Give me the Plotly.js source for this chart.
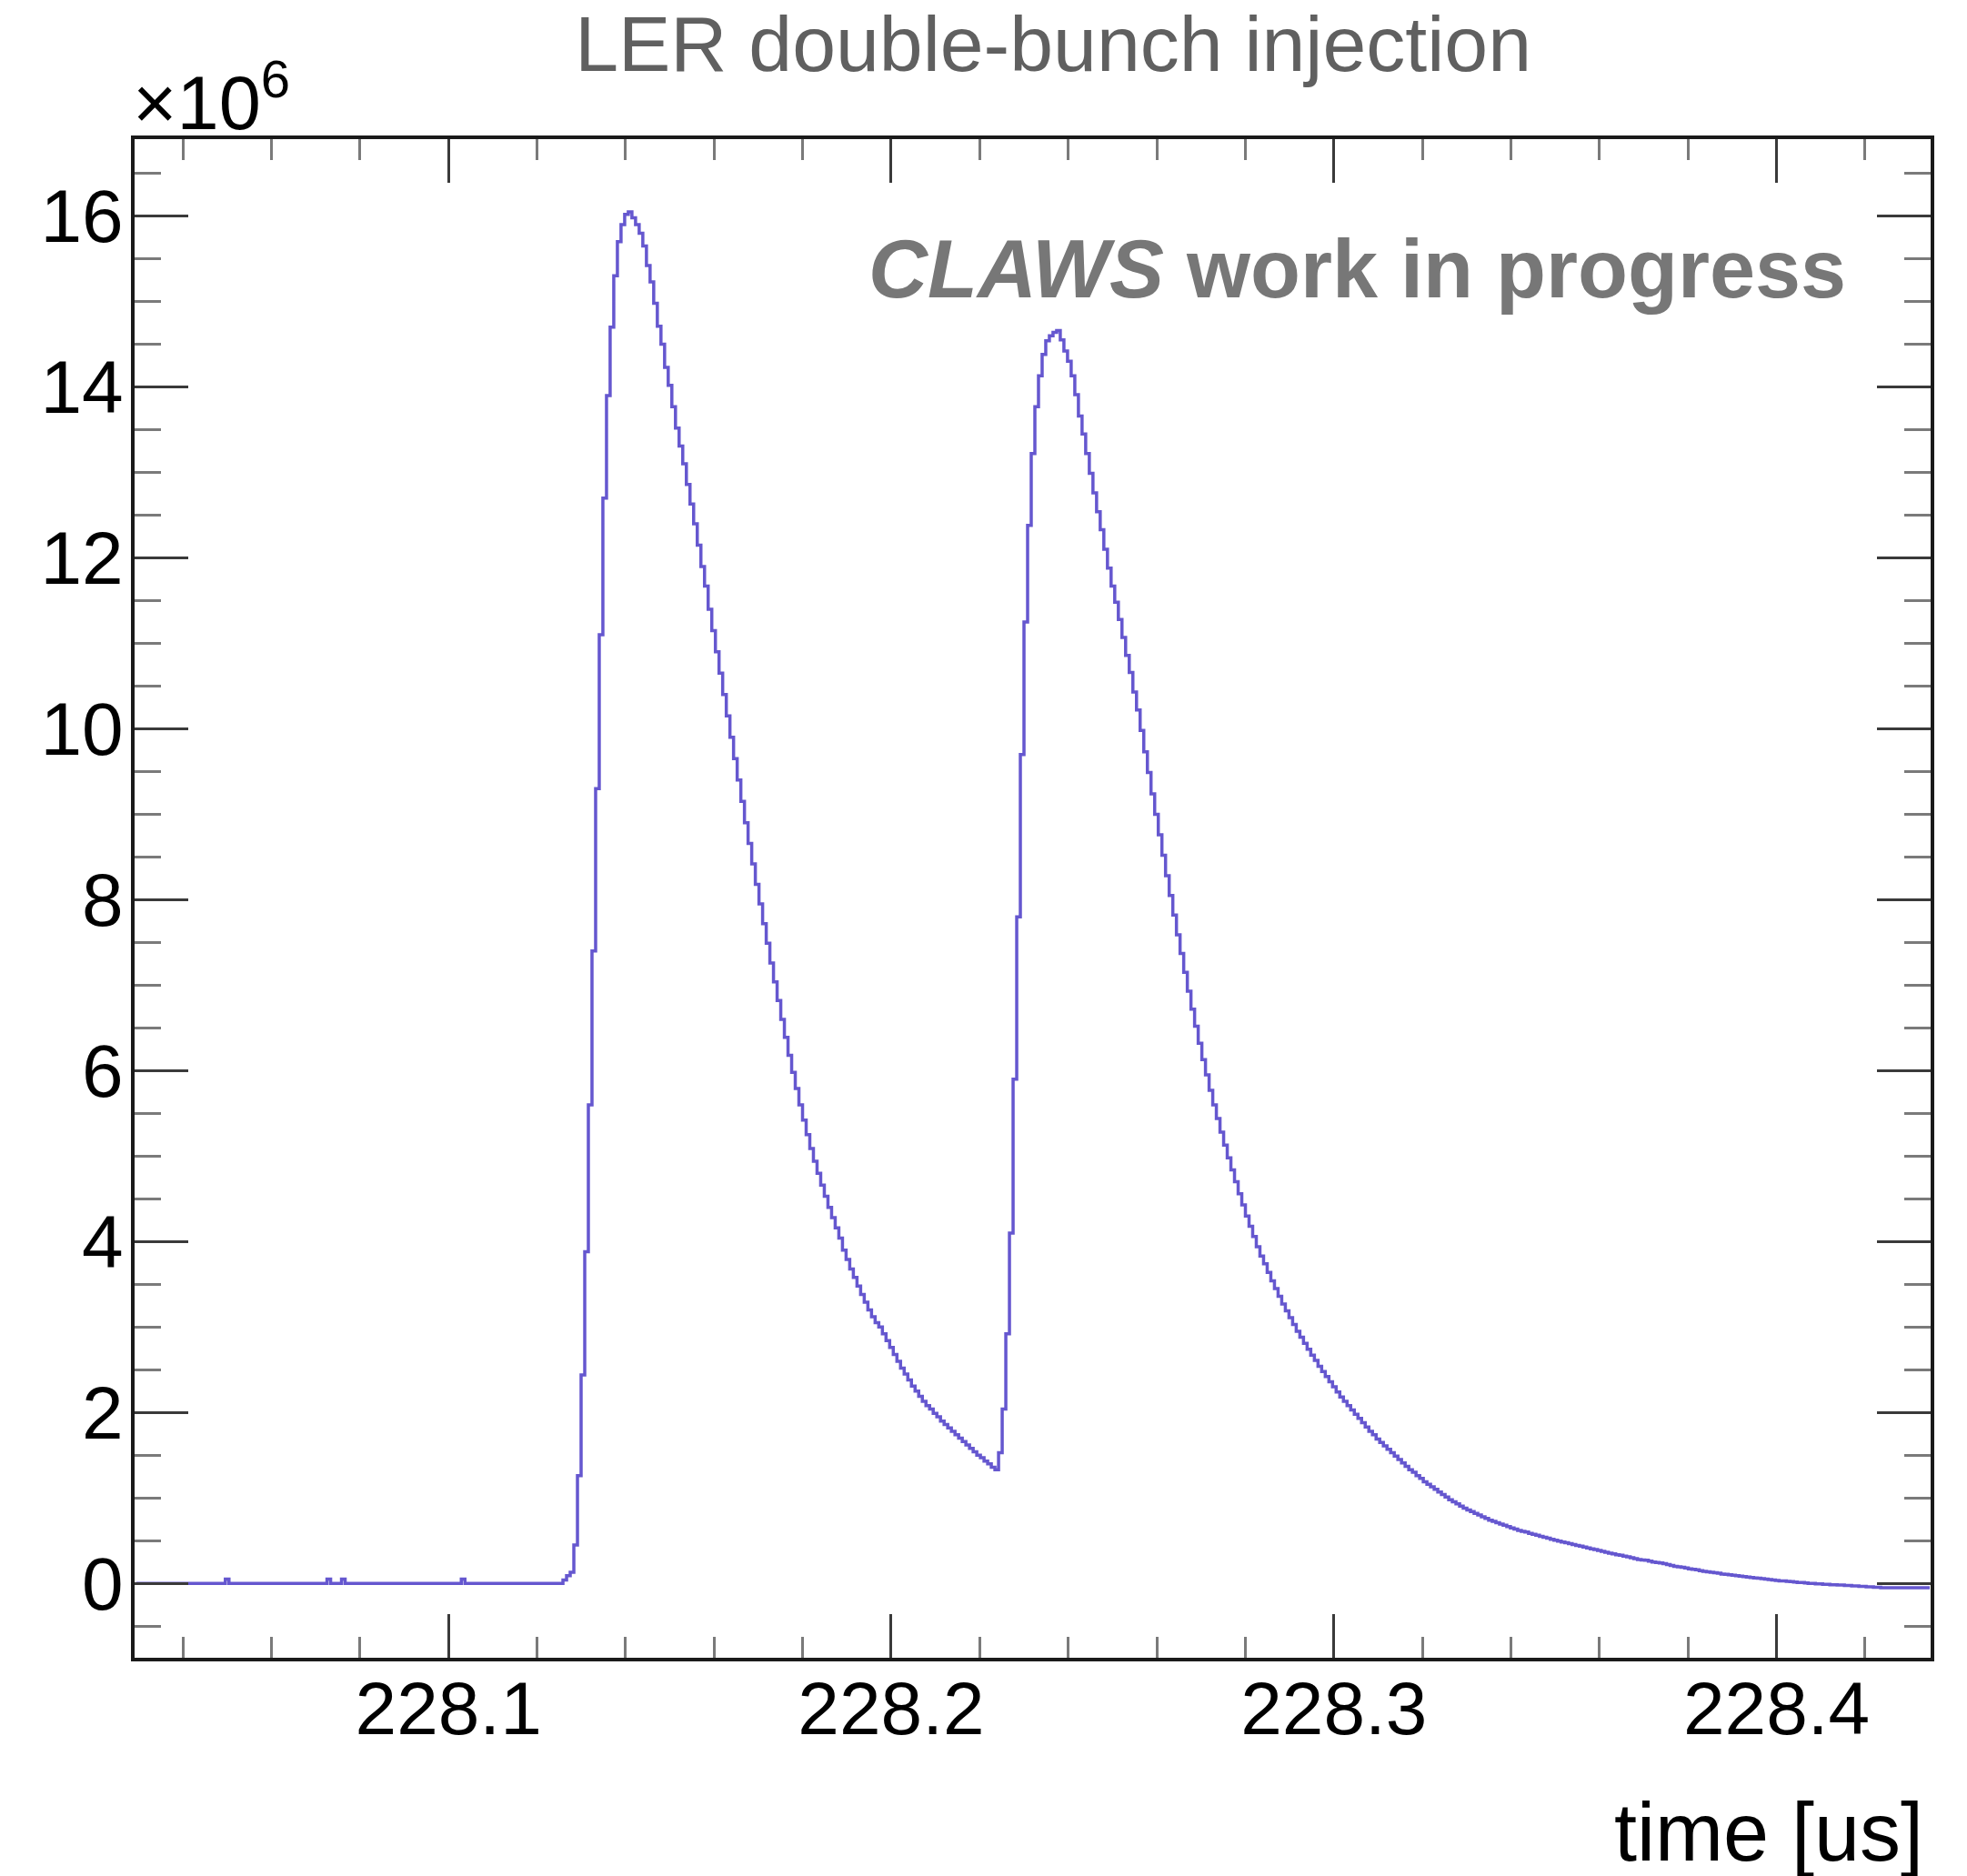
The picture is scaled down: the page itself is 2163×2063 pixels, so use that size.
<!DOCTYPE html>
<html>
<head>
<meta charset="utf-8">
<script src="https://cdn.plot.ly/plotly-3.0.1.min.js"></script>
<style>html,body{margin:0;padding:0;background:#fff;}#chart{width:2163px;height:2063px;}</style>
</head>
<body>
<div id="chart"></div>
<script>
// Histogram binning (time in microseconds)
const binStart = 228.0291;
const binWidth = 0.00082;
// Signal per bin, in units of 10^6
const signal = [
  0,0,0,0,0,0,0,0,0,0,
  0,0,0,0,0,0,0,0,0,0,
  0,0,0,0,0,0.05,0,0,0,0,
  0,0,0,0,0,0,0,0,0,0,
  0,0,0,0,0,0,0,0,0,0,
  0,0,0,0.05,0,0,0,0.05,0,0,
  0,0,0,0,0,0,0,0,0,0,
  0,0,0,0,0,0,0,0,0,0,
  0,0,0,0,0,0,0,0,0,0,
  0.05,0,0,0,0,0,0,0,0,0,
  0,0,0,0,0,0,0,0,0,0,
  0,0,0,0,0,0,0,0,0.04,0.09,
  0.13,0.45,1.26,2.44,3.88,5.6,7.4,9.3,11.1,12.7,
  13.9,14.7,15.3,15.7,15.9,16.02,16.05,15.98,15.90,15.80,
  15.65,15.42,15.23,14.98,14.71,14.50,14.23,14.02,13.77,13.52,
  13.31,13.10,12.86,12.63,12.40,12.15,11.90,11.67,11.40,11.15,
  10.90,10.65,10.40,10.15,9.90,9.65,9.40,9.15,8.90,8.66,
  8.42,8.18,7.95,7.72,7.49,7.26,7.04,6.82,6.60,6.39,
  6.18,5.98,5.79,5.60,5.42,5.25,5.09,4.94,4.80,4.66,
  4.53,4.40,4.28,4.16,4.04,3.90,3.79,3.68,3.58,3.48,
  3.38,3.29,3.20,3.12,3.05,3.00,2.92,2.84,2.76,2.68,
  2.60,2.52,2.45,2.38,2.31,2.25,2.19,2.13,2.08,2.04,
  1.99,1.95,1.90,1.86,1.82,1.78,1.74,1.70,1.66,1.62,
  1.58,1.54,1.50,1.47,1.43,1.40,1.36,1.33,1.53,2.04,
  2.92,4.10,5.9,7.8,9.7,11.25,12.38,13.22,13.77,14.13,
  14.38,14.54,14.60,14.64,14.66,14.55,14.42,14.30,14.13,13.91,
  13.66,13.45,13.22,12.99,12.76,12.54,12.33,12.10,11.88,11.67,
  11.48,11.28,11.07,10.86,10.66,10.43,10.22,9.98,9.73,9.49,
  9.24,9.00,8.76,8.52,8.28,8.05,7.82,7.59,7.37,7.15,
  6.93,6.72,6.52,6.32,6.13,5.95,5.77,5.60,5.44,5.28,
  5.13,4.98,4.84,4.70,4.56,4.43,4.30,4.18,4.06,3.94,
  3.83,3.74,3.64,3.54,3.45,3.36,3.27,3.19,3.11,3.03,
  2.95,2.88,2.81,2.74,2.67,2.61,2.54,2.48,2.42,2.36,
  2.30,2.24,2.18,2.13,2.08,2.03,1.98,1.93,1.88,1.83,
  1.78,1.74,1.69,1.65,1.61,1.57,1.53,1.49,1.45,1.41,
  1.37,1.33,1.30,1.26,1.23,1.19,1.16,1.13,1.10,1.07,
  1.04,1.01,0.98,0.955,0.93,0.905,0.88,0.86,0.84,0.82,
  0.80,0.78,0.76,0.74,0.725,0.71,0.695,0.68,0.665,0.65,
  0.635,0.62,0.61,0.60,0.585,0.575,0.565,0.55,0.54,0.53,
  0.515,0.505,0.495,0.485,0.475,0.465,0.455,0.445,0.435,0.425,
  0.415,0.405,0.395,0.385,0.375,0.365,0.355,0.345,0.335,0.33,
  0.32,0.31,0.30,0.29,0.28,0.275,0.27,0.26,0.25,0.245,
  0.24,0.23,0.22,0.21,0.20,0.195,0.19,0.18,0.17,0.165,
  0.16,0.15,0.14,0.135,0.13,0.125,0.12,0.11,0.105,0.10,
  0.095,0.09,0.085,0.08,0.075,0.07,0.065,0.06,0.055,0.05,
  0.045,0.04,0.035,0.03,0.03,0.025,0.02,0.015,0.01,0.01,
  0.005,0,0,-0.005,-0.005,-0.01,-0.01,-0.015,-0.015,-0.02,
  -0.02,-0.025,-0.025,-0.03,-0.03,-0.035,-0.035,-0.04,-0.04,-0.045,
  -0.045,-0.05,-0.05,-0.05,-0.05,-0.05,-0.05,-0.05,-0.05,-0.05,
  -0.05,-0.05,-0.05,-0.05,-0.05
];
const xRange = [228.0291, 228.4348];
const yRange = [-0.87, 16.9];
const titleText = 'LER double-bunch injection';
const xTitleText = 'time [us]';
const scaleText = '×10<sup>6</sup>';
const stampText = '<b><i>CLAWS</i> work in progress</b>';

const binCenters = signal.map((_, i) => binStart + (i + 0.5) * binWidth);

const FONT = 'Liberation Sans, Arial, Helvetica, sans-serif';

const trace = {
  type: 'scatter', mode: 'lines',
  x: binCenters, y: signal,
  line: {shape: 'hvh', color: '#6557cf', width: 3.5},
  hoverinfo: 'skip'
};

const axisCommon = {
  showline: true, linecolor: '#1a1a1a', linewidth: 4, mirror: 'ticks',
  showgrid: false, zeroline: false, ticks: 'inside', tickwidth: 3, tickcolor: '#3a3a3a',
  tickfont: {family: FONT, size: 82, color: '#000'}
};

const layout = {
  width: 2163, height: 2063,
  margin: {l: 148, r: 40, t: 153, b: 240, pad: 0},
  paper_bgcolor: '#ffffff', plot_bgcolor: '#ffffff',
  showlegend: false,
  title: {text: titleText, font: {family: FONT, size: 86, color: '#606060'},
          x: 0.5354, xanchor: 'center', y: 0.977, yanchor: 'middle'},
  xaxis: Object.assign({}, axisCommon, {
    range: xRange, tick0: 228.1, dtick: 0.1, tickformat: '.1f', ticklen: 48,
    ticklabelstandoff: -18,
    minor: {ticks: 'inside', ticklen: 23, tickwidth: 3, tickcolor: '#7a7a7a', dtick: 0.02, tick0: 228.1, showgrid: false}
  }),
  yaxis: Object.assign({}, axisCommon, {
    range: yRange, tick0: 0, dtick: 2, ticklen: 59,
    ticklabelstandoff: -8,
    minor: {ticks: 'inside', ticklen: 29, tickwidth: 3, tickcolor: '#7a7a7a', dtick: 0.5, tick0: 0, showgrid: false}
  }),
  annotations: [
    {text: scaleText, xref: 'paper', yref: 'paper', x: -0.002, xanchor: 'left', y: 1.0, yanchor: 'bottom', yshift: -9,
     showarrow: false, font: {family: FONT, size: 83, color: '#000'}},
    {text: stampText, xref: 'paper', yref: 'paper', x: 0.9539, xanchor: 'right', y: 0.9145, yanchor: 'middle',
     showarrow: false, font: {family: FONT, size: 90, color: '#777777'}},
    {text: xTitleText, xref: 'paper', yref: 'paper', x: 0.997, xanchor: 'right', y: -0.1148, yanchor: 'middle',
     showarrow: false, font: {family: FONT, size: 90, color: '#000'}}
  ]
};

Plotly.newPlot('chart', [trace], layout, {displayModeBar: false, staticPlot: true});
</script>
</body>
</html>
